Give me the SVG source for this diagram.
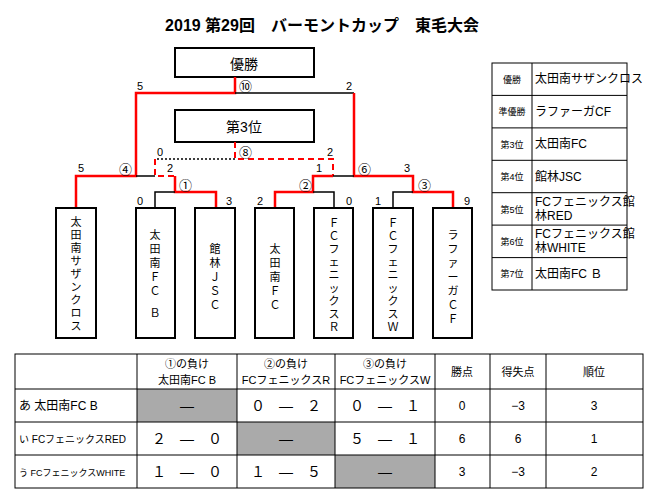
<svg xmlns="http://www.w3.org/2000/svg" width="645" height="499" viewBox="0 0 645 499">
<style>
text{font-family:"Liberation Sans","Noto Sans CJK JP",sans-serif;fill:#000}
.box{fill:#fff;stroke:#000;stroke-width:2}
.b{stroke:#000;stroke-width:1.5;fill:none}
.r{stroke:#f00;stroke-width:2.5;fill:none}
.rd{stroke:#f00;stroke-width:2;fill:none;stroke-dasharray:6,4}
.kd{stroke:#000;stroke-width:1.5;fill:none;stroke-dasharray:2,2}
.s{font-size:11px}
.c{font-size:13px}
.v{font-size:11px;text-anchor:middle}
.t{stroke:#000;stroke-width:1;fill:none}
.g{fill:#aaa}
</style>
<rect width="645" height="499" fill="#fff"/>
<text x="322" y="31" font-size="16" font-weight="bold" text-anchor="middle">2019 第29回　バーモントカップ　東毛大会</text>
<g id="final"><rect class="box" x="175" y="48" width="139" height="29"/><text x="244" y="69" font-size="14" text-anchor="middle">優勝</text></g>
<g id="third"><rect class="box" x="175" y="110" width="139" height="32"/><text x="244" y="132" font-size="14" text-anchor="middle">第3位</text></g>
<g id="connectors">
<path class="r" d="M235,77V93H136V176H76V208"/>
<path class="b" d="M235,93H354"/>
<path class="r" d="M354,93V176H413V192H453V208"/>
<path class="b" d="M413,192H393V208"/>
<path class="b" d="M136,176H155"/>
<path class="rd" d="M235,142V159H333V176"/>
<path class="kd" d="M235,159H155"/>
<path class="rd" d="M155,159V176H175"/>
<path class="r" d="M175,176V192H216V208"/>
<path class="b" d="M175,192H155V208"/>
<path class="b" d="M333,176H354"/>
<path class="r" d="M333,176H313V192H275V208"/>
<path class="b" d="M313,192H334V208"/>
</g>
<g id="labels" class="s">
<text x="137" y="90">5</text><text x="346" y="90">2</text><text class="c" x="239" y="91">⑩</text>
<text x="157" y="156">0</text><text x="327" y="156">2</text><text class="c" x="239" y="157">⑧</text>
<text x="78" y="172">5</text><text class="c" x="119" y="174">④</text><text x="167" y="172">2</text><text class="c" x="179" y="190">①</text>
<text class="c" x="299" y="190">②</text><text x="316" y="172">1</text><text class="c" x="358" y="174">⑥</text><text x="404" y="172">3</text><text class="c" x="418" y="190">③</text>
<text x="137" y="205">0</text><text x="226" y="205">3</text><text x="257" y="205">2</text><text x="346" y="205">0</text><text x="375" y="205">1</text><text x="464" y="205">9</text>
</g>
<g id="t1"><rect class="box" x="56" y="208" width="40" height="130"/><text class="v"><tspan x="76" y="226">太</tspan><tspan x="76" y="239">田</tspan><tspan x="76" y="252">南</tspan><tspan x="76" y="265">サ</tspan><tspan x="76" y="278">ザ</tspan><tspan x="76" y="291">ン</tspan><tspan x="76" y="304">ク</tspan><tspan x="76" y="317">ロ</tspan><tspan x="76" y="330">ス</tspan></text></g>
<g id="t2"><rect class="box" x="136" y="208" width="39" height="130"/><text class="v"><tspan x="155" y="239">太</tspan><tspan x="155" y="253">田</tspan><tspan x="155" y="267">南</tspan><tspan x="155" y="281">Ｆ</tspan><tspan x="155" y="295">Ｃ</tspan><tspan x="155" y="317">Ｂ</tspan></text></g>
<g id="t3"><rect class="box" x="195" y="208" width="40" height="130"/><text class="v"><tspan x="215" y="253">館</tspan><tspan x="215" y="267">林</tspan><tspan x="215" y="281">Ｊ</tspan><tspan x="215" y="295">Ｓ</tspan><tspan x="215" y="309">Ｃ</tspan></text></g>
<g id="t4"><rect class="box" x="255" y="208" width="39" height="130"/><text class="v"><tspan x="275" y="253">太</tspan><tspan x="275" y="267">田</tspan><tspan x="275" y="281">南</tspan><tspan x="275" y="295">Ｆ</tspan><tspan x="275" y="309">Ｃ</tspan></text></g>
<g id="t5"><rect class="box" x="314" y="208" width="39" height="130"/><text class="v"><tspan x="334" y="227">Ｆ</tspan><tspan x="334" y="240">Ｃ</tspan><tspan x="334" y="253">フ</tspan><tspan x="334" y="266">ェ</tspan><tspan x="334" y="279">ニ</tspan><tspan x="334" y="292">ッ</tspan><tspan x="334" y="305">ク</tspan><tspan x="334" y="318">ス</tspan><tspan x="334" y="331">Ｒ</tspan></text></g>
<g id="t6"><rect class="box" x="373" y="208" width="40" height="130"/><text class="v"><tspan x="393" y="227">Ｆ</tspan><tspan x="393" y="240">Ｃ</tspan><tspan x="393" y="253">フ</tspan><tspan x="393" y="266">ェ</tspan><tspan x="393" y="279">ニ</tspan><tspan x="393" y="292">ッ</tspan><tspan x="393" y="305">ク</tspan><tspan x="393" y="318">ス</tspan><tspan x="393" y="331">Ｗ</tspan></text></g>
<g id="t7"><rect class="box" x="433" y="208" width="39" height="130"/><text class="v"><tspan x="453" y="239">ラ</tspan><tspan x="453" y="253">フ</tspan><tspan x="453" y="267">ァ</tspan><tspan x="453" y="281">ー</tspan><tspan x="453" y="295">ガ</tspan><tspan x="453" y="309">Ｃ</tspan><tspan x="453" y="323">Ｆ</tspan></text></g>
<g id="ranking">
<rect class="t" x="492" y="63" width="135" height="227" stroke-width="1.5"/>
<path class="t" d="M532,63V290M492,95.4H627M492,127.9H627M492,160.3H627M492,192.7H627M492,225.1H627M492,257.6H627"/>
<g font-size="9" text-anchor="middle"><text x="512" y="83">優勝</text><text x="512" y="115">準優勝</text><text x="512" y="148">第3位</text><text x="512" y="180">第4位</text><text x="512" y="213">第5位</text><text x="512" y="245">第6位</text><text x="512" y="277">第7位</text></g>
<g font-size="12"><text x="535" y="83">太田南サザンクロス</text><text x="535" y="116">ラファーガCF</text><text x="535" y="148">太田南FC</text><text x="535" y="181">館林JSC</text><text x="535" y="206">FCフェニックス館</text><text x="535" y="220">林RED</text><text x="535" y="238">FCフェニックス館</text><text x="535" y="252">林WHITE</text><text x="535" y="278">太田南FC Ｂ</text></g>
</g>
<g id="league">
<rect class="g" x="137" y="389" width="100" height="33"/><rect class="g" x="237" y="422" width="98" height="33"/><rect class="g" x="335" y="455" width="100" height="33"/>
<rect class="t" x="15" y="354" width="628" height="134" stroke-width="1.5"/>
<path class="t" d="M137,354V488M237,354V488M335,354V488M435,354V488M490,354V488M546,354V488M15,389H643M15,422H643M15,455H643"/>
<g font-size="11" text-anchor="middle"><text x="187" y="368">①の負け</text><text x="187" y="384">太田南FC B</text><text x="286" y="368">②の負け</text><text x="286" y="384">FCフェニックスR</text><text x="385" y="368">③の負け</text><text x="385" y="384">FCフェニックスW</text><text x="462" y="376">勝点</text><text x="518" y="376">得失点</text><text x="594" y="376">順位</text></g>
<text x="19" y="410" font-size="12">あ  太田南FC B</text><text x="19" y="443" font-size="10">い  FCフェニックスRED</text><text x="19" y="476" font-size="9">う  FCフェニックスWHITE</text>
<g font-size="14" text-anchor="middle"><text x="187" y="411">―</text><text x="286" y="411">０　―　２</text><text x="385" y="411">０　―　１</text><text x="187" y="444">２　―　０</text><text x="286" y="444">―</text><text x="385" y="444">５　―　１</text><text x="187" y="477">１　―　０</text><text x="286" y="477">１　―　５</text><text x="385" y="477">―</text></g>
<g font-size="12" text-anchor="middle"><text x="462" y="410">0</text><text x="518" y="410">−3</text><text x="594" y="410">3</text><text x="462" y="443">6</text><text x="518" y="443">6</text><text x="594" y="443">1</text><text x="462" y="476">3</text><text x="518" y="476">−3</text><text x="594" y="476">2</text></g>
</g>
</svg>
